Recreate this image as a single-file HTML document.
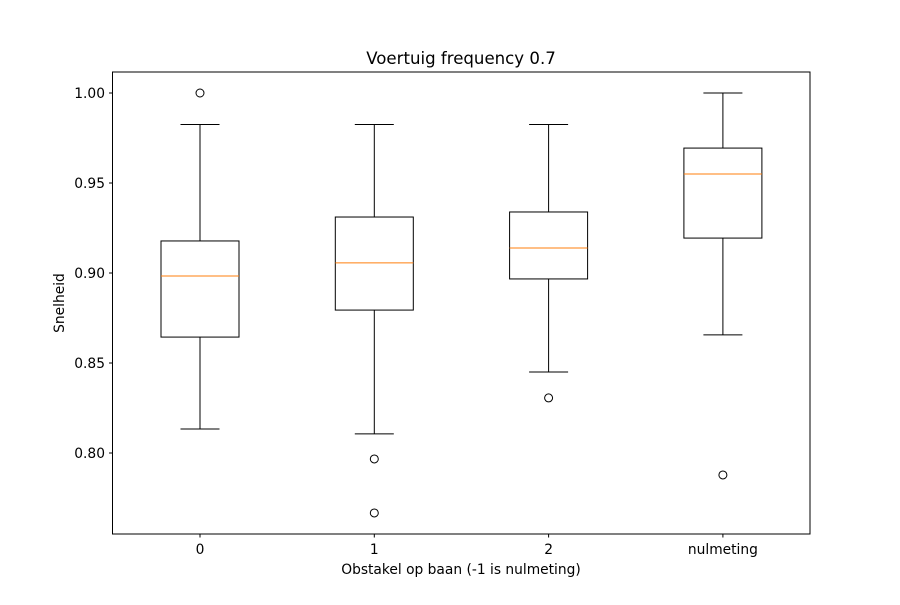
<!DOCTYPE html>
<html><head><meta charset="utf-8"><style>
body{margin:0;background:#fff;}
svg text{font-family:"DejaVu Sans","Liberation Sans",sans-serif;}
</style></head><body>
<svg id="chart" width="900" height="600" xmlns="http://www.w3.org/2000/svg">
<rect width="900" height="600" fill="#fff"/>
<text x="461" y="64" font-size="16.6" text-anchor="middle">Voertuig frequency 0.7</text>
<g id="plot"></g>
<rect x="112.5" y="72" width="697.5" height="462" fill="none" stroke="#000" stroke-width="1"/>
<text x="461" y="574" font-size="13.8" text-anchor="middle">Obstakel op baan (-1 is nulmeting)</text>
<text transform="translate(64,303) rotate(-90)" font-size="13.8" text-anchor="middle">Snelheid</text>
</svg>
<script>
const categories = ["0","1","2","nulmeting"];
const whiskerHigh = [0.9825,0.9825,0.9825,1.0];
const q3 = [0.9178,0.9311,0.9339,0.9694];
const medians = [0.8983,0.9056,0.9139,0.955];
const q1 = [0.8644,0.8794,0.8967,0.9194];
const whiskerLow = [0.8133,0.8106,0.845,0.8656];
const outliers = [[1.0],[0.7967,0.7667],[0.8306],[0.7878]];
const yTicks = [0.80,0.85,0.90,0.95,1.00];

const NS="http://www.w3.org/2000/svg";
const g=document.getElementById('plot');
const y=v=>93+(1-v)*1800;
const x=i=>200+i*174.3;
function mk(t,a){const e=document.createElementNS(NS,t);for(const k in a)e.setAttribute(k,a[k]);g.appendChild(e);return e;}
yTicks.forEach(v=>{
  const l=mk('line',{x1:109,x2:112.5,y1:y(v),y2:y(v),stroke:'#000'});
  
  
  const t=mk('text',{x:105,y:y(v)+5,'font-size':13.8,'text-anchor':'end'});
  t.textContent=v.toFixed(2);
  
  
});
categories.forEach((c,i)=>{
  const cx=x(i);
  const tk=mk('line',{x1:cx,x2:cx,y1:534,y2:537.5,stroke:'#000'});
  
  
  const t=mk('text',{x:cx,y:554,'font-size':13.8,'text-anchor':'middle'});
  t.textContent=c;
  
  
  const w1=mk('line',{x1:cx,x2:cx,y1:y(whiskerHigh[i]),y2:y(q3[i]),stroke:'#000'});
  
  
  const w2=mk('line',{x1:cx,x2:cx,y1:y(q1[i]),y2:y(whiskerLow[i]),stroke:'#000'});
  
  
  [whiskerHigh[i],whiskerLow[i]].forEach(v=>{
    const cap=mk('line',{x1:cx-19.5,x2:cx+19.5,y1:y(v),y2:y(v),stroke:'#000'});
    
    
  });
  const b=mk('rect',{x:cx-39,y:y(q3[i]),width:78,height:y(q1[i])-y(q3[i]),fill:'none',stroke:'#000'});
  
  
  const m=mk('line',{x1:cx-39,x2:cx+39,y1:y(medians[i]),y2:y(medians[i]),stroke:'#ff7f0e'});
  
  
  outliers[i].forEach(v=>{
    const o=mk('circle',{cx:cx,cy:y(v),r:4,fill:'none',stroke:'#000'});
    
    
  });
});
</script>
</body></html>
